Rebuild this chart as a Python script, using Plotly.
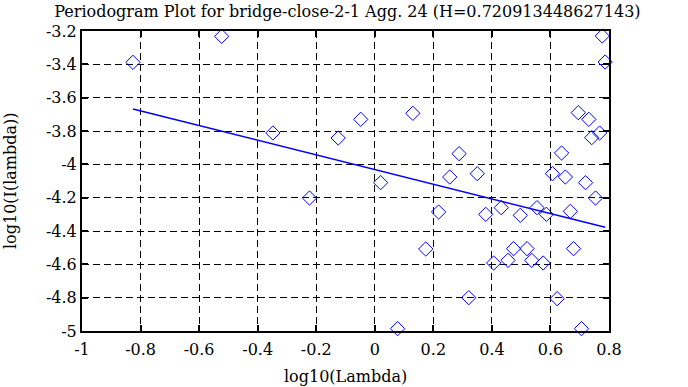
import plotly.graph_objects as go

log_lambda = [-0.826, -0.523, -0.348, -0.223, -0.125, -0.048, 0.020, 0.078, 0.130, 0.174,
              0.218, 0.256, 0.288, 0.321, 0.350, 0.379, 0.406, 0.432, 0.455, 0.474,
              0.497, 0.520, 0.536, 0.554, 0.575, 0.586, 0.607, 0.623, 0.638, 0.651,
              0.668, 0.679, 0.695, 0.706, 0.720, 0.731, 0.741, 0.754, 0.768, 0.777, 0.787]
log_I = [-3.388, -3.232, -3.812, -4.202, -3.842, -3.730, -4.110, -4.986, -3.694, -4.508,
         -4.286, -4.076, -3.936, -4.800, -4.056, -4.300, -4.592, -4.260, -4.576, -4.506,
         -4.306, -4.506, -4.576, -4.260, -4.592, -4.300, -4.056, -4.806, -3.932, -4.076,
         -4.282, -4.506, -3.690, -4.986, -4.110, -3.730, -3.840, -4.202, -3.812, -3.230, -3.386]
fit_x = [-0.826, 0.787]
fit_y = [-3.668, -4.378]

x_ticks = [-1, -0.8, -0.6, -0.4, -0.2, 0, 0.2, 0.4, 0.6, 0.8]
x_ticktext = ["-1", "-0.8", "-0.6", "-0.4", "-0.2", "0", "0.2", "0.4", "0.6", "0.8"]
y_ticks = [-5, -4.8, -4.6, -4.4, -4.2, -4, -3.8, -3.6, -3.4, -3.2]
y_ticktext = ["-5", "-4.8", "-4.6", "-4.4", "-4.2", "-4", "-3.8", "-3.6", "-3.4", "-3.2"]

title = "Periodogram Plot for bridge-close-2-1 Agg. 24 (H=0.720913448627143)"
x_title = "log10(Lambda)"
y_title = "log10(I(lambda))"

FONT = "DejaVu Serif, Liberation Serif, serif"
FS = 16

fig = go.Figure()
fig.add_trace(go.Scatter(x=log_lambda, y=log_I, mode="markers",
                         marker=dict(symbol="diamond-open", size=11, color="#0000ff",
                                     line=dict(width=1, color="#0000ff")),
                         showlegend=False, cliponaxis=False))
fig.add_trace(go.Scatter(x=fit_x, y=fit_y, mode="lines",
                         line=dict(color="#0000ff", width=1.5), showlegend=False))

axis_common = dict(showline=True, linewidth=2, linecolor="black", mirror="ticks",
                   ticks="inside", ticklen=6, tickwidth=2, tickcolor="black",
                   showgrid=True, gridcolor="black", gridwidth=1, griddash="7px,4px",
                   zeroline=False, automargin=False,
                   tickfont=dict(family=FONT, size=FS, color="black"))

fig.update_xaxes(range=[-1, 0.8], tickvals=x_ticks, ticktext=x_ticktext,
                 ticklabelstandoff=3, **axis_common)
fig.update_yaxes(range=[-5, -3.2], tickvals=y_ticks, ticktext=y_ticktext, **axis_common)

fig.update_layout(
    width=688, height=387,
    margin=dict(l=82, r=79, t=31, b=56),
    paper_bgcolor="white", plot_bgcolor="white",
    title=dict(text=title, x=0.505, xanchor="center", y=1 - 11 / 387, yanchor="middle",
               font=dict(family=FONT, size=FS, color="black")),
    annotations=[
        dict(text=x_title, xref="paper", yref="paper", x=0.5, y=-(376 - 331) / 300,
             xanchor="center", yanchor="middle", showarrow=False,
             font=dict(family=FONT, size=FS, color="black")),
        dict(text=y_title, xref="paper", yref="paper", x=-(82 - 10) / 527, y=(331 - 181) / 300,
             xanchor="center", yanchor="middle", showarrow=False, textangle=-90,
             font=dict(family=FONT, size=FS, color="black")),
    ],
)

fig.write_html("out.html", config={"displayModeBar": False},
               post_script="document.body.style.margin='0';")
